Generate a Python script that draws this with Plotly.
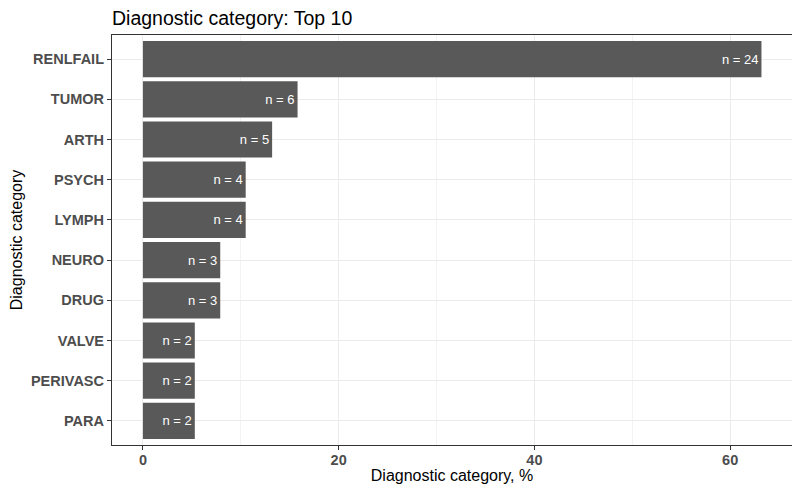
import plotly.graph_objects as go

categories = ["RENLFAIL", "TUMOR", "ARTH", "PSYCH", "LYMPH", "NEURO", "DRUG", "VALVE", "PERIVASC", "PARA"]
percent = [63.2, 15.8, 13.2, 10.5, 10.5, 7.9, 7.9, 5.3, 5.3, 5.3]
counts = [24, 6, 5, 4, 4, 3, 3, 2, 2, 2]
x_ticks = [0, 20, 40, 60]

labels = [f"n = {c}" for c in counts]
FONT = "Liberation Sans"

# page body has an 8px margin, so the figure is drawn 8px smaller
W, H = 792, 486

fig = go.Figure(go.Bar(
    x=percent, y=categories, orientation="h",
    marker=dict(color="#595959", line=dict(width=0)),
    width=0.9,
    text=labels, textposition="inside", insidetextanchor="end",
    textfont=dict(color="white", size=13, family=FONT),
    textangle=0,
    hoverinfo="skip",
))

fig.update_layout(
    width=W, height=H,
    margin=dict(l=104, r=8, t=27, b=49, autoexpand=False),
    paper_bgcolor="white", plot_bgcolor="white",
    font=dict(family=FONT, color="black"),
    title=dict(text="Diagnostic category: Top 10", x=104/W, xanchor="left",
               y=1 - 10/H, yanchor="middle", font=dict(size=19.5, color="black")),
    showlegend=False,
    uniformtext=dict(minsize=8, mode="show"),
)

fig.update_xaxes(
    range=[-3.16, 66.32], tickvals=x_ticks, ticktext=[str(v) for v in x_ticks],
    ticks="outside", ticklen=4, tickcolor="#333333", tickwidth=1,
    tickfont=dict(size=14.5, color="#4D4D4D", family=FONT, weight="bold"),
    ticklabelstandoff=-3,
    showgrid=True, gridcolor="#EBEBEB", gridwidth=1,
    minor=dict(tickvals=[10, 30, 50], showgrid=True, gridcolor="#F3F3F3", gridwidth=0.6, ticks=""),
    showline=True, linecolor="#333333", linewidth=1.2, mirror=True,
    zeroline=False, automargin=False,
    title=dict(text="Diagnostic category, %", font=dict(size=16, color="black"), standoff=2),
)

fig.update_yaxes(
    categoryorder="array", categoryarray=categories[::-1],
    range=[-0.6, 9.6],
    ticks="outside", ticklen=4, tickcolor="#333333", tickwidth=1,
    tickfont=dict(size=14.5, color="#4D4D4D", family=FONT, weight="bold"),
    showgrid=True, gridcolor="#EBEBEB", gridwidth=1,
    showline=True, linecolor="#333333", linewidth=1.2, mirror=True,
    zeroline=False, automargin=False,
    title=dict(text="Diagnostic category", font=dict(size=16, color="black"), standoff=6),
)

fig.write_html("out.html")
